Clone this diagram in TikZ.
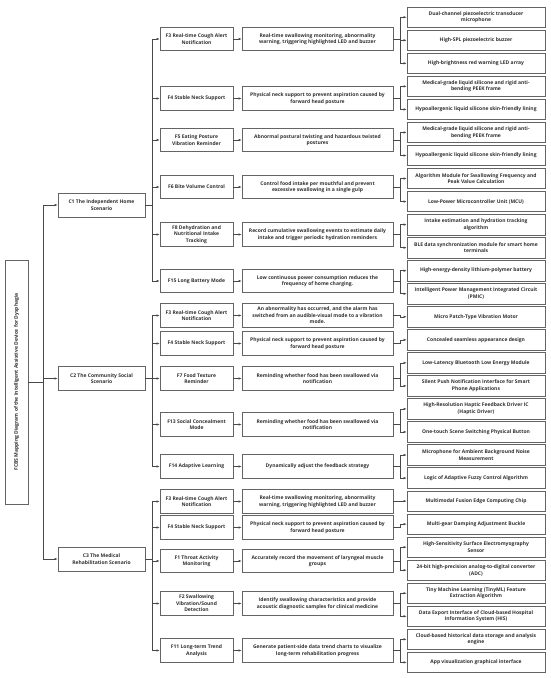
\documentclass[tikz,border=0pt]{standalone}
\usepackage{fontspec}
\setmainfont{Open Sans}
\usetikzlibrary{arrows.meta}
\definecolor{ln}{HTML}{484848}
\definecolor{bd}{HTML}{646464}
\definecolor{tx}{HTML}{303030}
\tikzset{
 base/.style={draw=bd, line width=0.65pt, align=center, inner sep=1pt, text=tx, font=\fontsize{5}{6.6}\selectfont\bfseries},
 fbox/.style={base, minimum width=73pt, minimum height=23.5pt},
 mbox/.style={base, minimum width=151pt, minimum height=23.5pt},
 rbox/.style={base, minimum width=138pt, minimum height=20.5pt},
 cbox/.style={base, minimum width=87pt, minimum height=24pt},
 tbox/.style={base, minimum width=23pt, minimum height=244pt, font=\fontsize{5}{6}\selectfont\bfseries},
 arr/.style={draw=ln, line width=0.55pt, -{Latex[length=3pt,width=2.4pt]}},
}
\newcommand\frow[5]{% name, y, parent C, F text, M text
 \node[fbox] (f#1) at (196.5,#2) {#4};
 \node[mbox] (m#1) at (317.5,#2) {#5};
 \draw[arr] (#3.east) -- ++(7,0) |- (f#1.west);
 \draw[arr] (f#1) -- (m#1);}
\newcommand\rb[3]{% index, parent row, text
 \node[rbox] (r#1) at (476,{17.25+23.04*(#1-1)}) {#3};
 \draw[arr] (m#2.east) -- ++(7,0) |- (r#1.west);}
\begin{document}
\begin{tikzpicture}[x=1pt,y=-1pt]
\fill[white] (0,0) rectangle (550,678);
\useasboundingbox (0,0) rectangle (550,678);
\node[tbox] (title) at (16.5,382) {\rotatebox{90}{FCBS Mapping Diagram of the Intelligent Assistive Device for Dysphagia}};
\node[cbox] (c1) at (101.5,205) {C1 The Independent Home\\Scenario};
\node[cbox] (c2) at (101.5,378.5) {C2 The Community Social\\Scenario};
\node[cbox] (c3) at (101.5,559) {C3 The Medical\\Rehabilitation Scenario};
\draw[arr] (title.east) -- ++(15,0) |- (c1.west);
\draw[arr] (title.east) -- ++(15,0) |- (c2.west);
\draw[arr] (title.east) -- ++(15,0) |- (c3.west);
% C1
\frow{a1}{39}{c1}{F3 Real-time Cough Alert\\Notification}{Real-time swallowing monitoring, abnormality\\warning, triggering highlighted LED and buzzer}
\frow{a2}{98.5}{c1}{F4 Stable Neck Support}{Physical neck support to prevent aspiration caused by\\forward head posture}
\frow{a3}{140}{c1}{F5 Eating Posture\\Vibration Reminder}{Abnormal postural twisting and hazardous twisted\\postures}
\frow{a4}{187}{c1}{F6 Bite Volume Control}{Control food intake per mouthful and prevent\\excessive swallowing in a single gulp}
\frow{a5}{234.5}{c1}{F8 Dehydration and\\Nutritional Intake\\Tracking}{Record cumulative swallowing events to estimate daily\\intake and trigger periodic hydration reminders}
\frow{a6}{281}{c1}{F15 Long Battery Mode}{Low continuous power consumption reduces the\\frequency of home charging.}
% C2
\frow{b1}{315.5}{c2}{F3 Real-time Cough Alert\\Notification}{An abnormality has occurred, and the alarm has\\switched from an audible-visual mode to a vibration\\mode.}
\frow{b2}{343.5}{c2}{F4 Stable Neck Support}{Physical neck support to prevent aspiration caused by\\forward head posture}
\frow{b3}{378.5}{c2}{F7 Food Texture\\Reminder}{Reminding whether food has been swallowed via\\notification}
\frow{b4}{424.5}{c2}{F13 Social Concealment\\Mode}{Reminding whether food has been swallowed via\\notification}
\frow{b5}{466.5}{c2}{F14 Adaptive Learning}{Dynamically adjust the feedback strategy}
% C3
\frow{d1}{501.5}{c3}{F3 Real-time Cough Alert\\Notification}{Real-time swallowing monitoring, abnormality\\warning, triggering highlighted LED and buzzer}
\frow{d2}{527.5}{c3}{F4 Stable Neck Support}{Physical neck support to prevent aspiration caused by\\forward head posture}
\frow{d3}{561}{c3}{F1 Throat Activity\\Monitoring}{Accurately record the movement of laryngeal muscle\\groups}
\frow{d4}{603.5}{c3}{F2 Swallowing\\Vibration/Sound\\Detection}{Identify swallowing characteristics and provide\\acoustic diagnostic samples for clinical medicine}
\frow{d5}{650.5}{c3}{F11 Long-term Trend\\Analysis}{Generate patient-side data trend charts to visualize\\long-term rehabilitation progress}
% right column
\rb{1}{a1}{Dual-channel piezoelectric transducer\\microphone}
\rb{2}{a1}{High-SPL piezoelectric buzzer}
\rb{3}{a1}{High-brightness red warning LED array}
\rb{4}{a2}{Medical-grade liquid silicone and rigid anti-\\bending PEEK frame}
\rb{5}{a2}{Hypoallergenic liquid silicone skin-friendly lining}
\rb{6}{a3}{Medical-grade liquid silicone and rigid anti-\\bending PEEK frame}
\rb{7}{a3}{Hypoallergenic liquid silicone skin-friendly lining}
\rb{8}{a4}{Algorithm Module for Swallowing Frequency and\\Peak Value Calculation}
\rb{9}{a4}{Low-Power Microcontroller Unit (MCU)}
\rb{10}{a5}{Intake estimation and hydration tracking\\algorithm}
\rb{11}{a5}{BLE data synchronization module for smart home\\terminals}
\rb{12}{a6}{High-energy-density lithium-polymer battery}
\rb{13}{a6}{Intelligent Power Management Integrated Circuit\\(PMIC)}
\rb{14}{b1}{Micro Patch-Type Vibration Motor}
\rb{15}{b2}{Concealed seamless appearance design}
\rb{16}{b3}{Low-Latency Bluetooth Low Energy Module}
\rb{17}{b3}{Silent Push Notification Interface for Smart\\Phone Applications}
\rb{18}{b4}{High-Resolution Haptic Feedback Driver IC\\(Haptic Driver)}
\rb{19}{b4}{One-touch Scene Switching Physical Button}
\rb{20}{b5}{Microphone for Ambient Background Noise\\Measurement}
\rb{21}{b5}{Logic of Adaptive Fuzzy Control Algorithm}
\rb{22}{d1}{Multimodal Fusion Edge Computing Chip}
\rb{23}{d2}{Multi-gear Damping Adjustment Buckle}
\rb{24}{d3}{High-Sensitivity Surface Electromyography\\Sensor}
\rb{25}{d3}{24-bit high-precision analog-to-digital converter\\(ADC)}
\rb{26}{d4}{Tiny Machine Learning (TinyML) Feature\\Extraction Algorithm}
\rb{27}{d4}{Data Export Interface of Cloud-based Hospital\\Information System (HIS)}
\rb{28}{d5}{Cloud-based historical data storage and analysis\\engine}
\rb{29}{d5}{App visualization graphical interface}
\end{tikzpicture}
\end{document}
